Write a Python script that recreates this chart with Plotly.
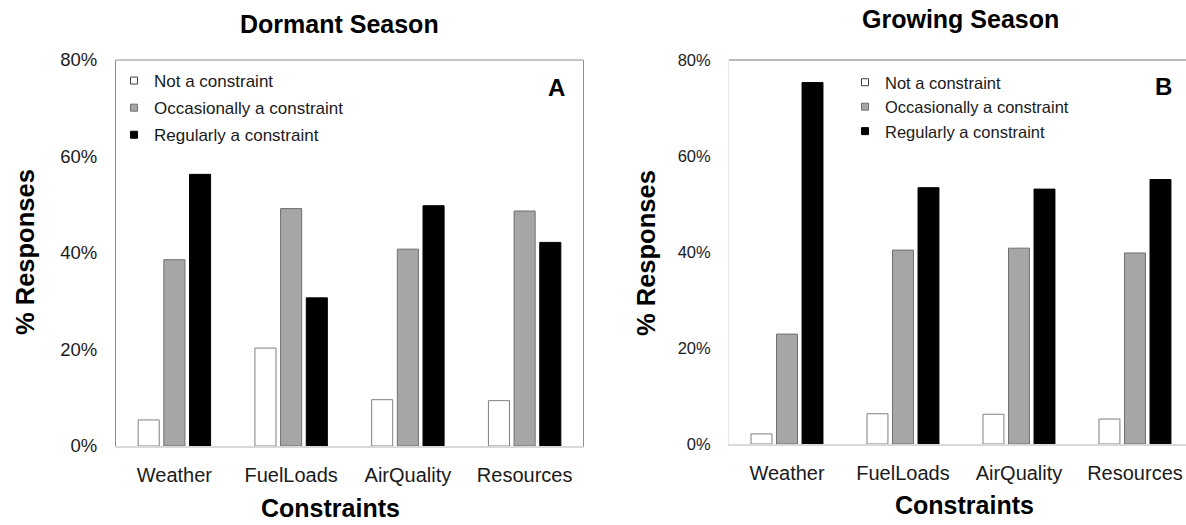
import plotly.graph_objects as go

categories = ["Weather", "FuelLoads", "AirQuality", "Resources"]
series_names = ["Not a constraint", "Occasionally a constraint", "Regularly a constraint"]
dormant_not = [5.4, 20.3, 9.6, 9.4]
dormant_occ = [38.6, 49.2, 40.8, 48.7]
dormant_reg = [56.3, 30.7, 49.8, 42.2]
growing_not = [2.1, 6.3, 6.2, 5.2]
growing_occ = [22.9, 40.4, 40.8, 39.8]
growing_reg = [75.3, 53.4, 53.1, 55.1]
y_ticks = [0, 20, 40, 60, 80]
y_tick_labels = ["0%", "20%", "40%", "60%", "80%"]

W, H = 1186, 525
FONT = "Arial, Liberation Sans, sans-serif"
fills = ["#ffffff", "#a6a6a6", "#000000"]
outlines = ["#7f7f7f", "#6f6f6f", "#000000"]

fig = go.Figure()

panels = [
    ("x", "y", [dormant_not, dormant_occ, dormant_reg], "legend"),
    ("x2", "y2", [growing_not, growing_occ, growing_reg], "legend2"),
]
for xa, ya, vals, lg in panels:
    for i, name in enumerate(series_names):
        fig.add_trace(go.Bar(
            x=categories, y=vals[i], name=name, xaxis=xa, yaxis=ya,
            marker=dict(color=fills[i], line=dict(color=outlines[i], width=1)),
            showlegend=False,
        ))
    for i, name in enumerate(series_names):
        fig.add_trace(go.Scatter(
            x=[None], y=[None], name=name, mode="markers", xaxis=xa, yaxis=ya,
            marker=dict(symbol="square", size=7, color=fills[i],
                        line=dict(color="#404040" if i == 0 else outlines[i], width=1)),
            legend=lg, legendgroup=(lg + str(i)) if lg == "legend" else None,
            showlegend=True,
        ))

tickfont_l = dict(family=FONT, size=18.5, color="#1a1a1a")
tickfont_r = dict(family=FONT, size=16.5, color="#1a1a1a")
xtickfont = dict(family=FONT, size=20, color="#1a1a1a")

fig.update_layout(
    template="none",
    width=W, height=H,
    margin=dict(l=0, r=0, t=0, b=0, autoexpand=False),
    paper_bgcolor="white", plot_bgcolor="white",
    barmode="group", bargap=0.34, bargroupgap=0.18,
    xaxis=dict(domain=[116 / W, 583 / W], range=[-0.5, 3.5], type="category",
               showline=True, linecolor="#d9d9d9", linewidth=1.5, showgrid=False,
               ticks="outside", ticklen=10, tickcolor="rgba(0,0,0,0)",
               tickfont=xtickfont, anchor="y", automargin=False),
    yaxis=dict(domain=[79 / H, 465 / H], range=[0, 80], tickvals=y_ticks,
               ticktext=y_tick_labels, showline=True, mirror=True, linecolor="#8c8c8c",
               linewidth=1, showgrid=False, zeroline=False,
               ticks="outside", ticklen=14, tickcolor="rgba(0,0,0,0)",
               tickfont=tickfont_l, anchor="x", automargin=False),
    xaxis2=dict(domain=[729 / W, 1.0], range=[-0.5, 3.44], type="category",
                showline=True, linecolor="#d9d9d9", linewidth=1.5, showgrid=False,
                ticks="outside", ticklen=10, tickcolor="rgba(0,0,0,0)",
                tickfont=xtickfont, anchor="y2", automargin=False),
    yaxis2=dict(domain=[81 / H, 465 / H], range=[0, 80], tickvals=y_ticks,
                ticktext=y_tick_labels, showline=True, linecolor="#e8e8e8", linewidth=1,
                showgrid=False, zeroline=False,
                ticks="outside", ticklen=14, tickcolor="rgba(0,0,0,0)",
                tickfont=tickfont_r, anchor="x2", automargin=False),
    legend=dict(x=114 / W, y=1 - 63 / H, xanchor="left", yanchor="top",
                bgcolor="rgba(0,0,0,0)", font=dict(family=FONT, size=17, color="#1a1a1a"),
                tracegroupgap=2, itemwidth=30),
    legend2=dict(x=845 / W, y=1 - 65 / H, xanchor="left", yanchor="top",
                 bgcolor="rgba(0,0,0,0)", font=dict(family=FONT, size=16.5, color="#1a1a1a"),
                 itemwidth=30),
    showlegend=True,
)

# top border lines of the two plot frames
fig.add_shape(type="line", xref="x domain", yref="y domain", x0=0, x1=1, y0=1, y1=1,
              line=dict(color="#8c8c8c", width=1))
fig.add_shape(type="line", xref="x2 domain", yref="y2 domain", x0=0, x1=1, y0=1, y1=1,
              line=dict(color="#a0a0a0", width=1.5))

def ann(text, x, y, size, bold=True, angle=0):
    fig.add_annotation(text=("<b>%s</b>" % text) if bold else text,
                       x=x / W, y=1 - y / H, xref="paper", yref="paper",
                       showarrow=False, textangle=angle,
                       font=dict(family=FONT, size=size, color="#000000"),
                       xanchor="center", yanchor="middle")

ann("Dormant Season", 339, 24, 25)
ann("Growing Season", 960, 19, 25)
ann("A", 556, 88, 24)
ann("B", 1163, 86, 24)
ann("% Responses", 25, 252, 25.5, angle=-90)
ann("% Responses", 646, 253, 25.5, angle=-90)
ann("Constraints", 330, 508, 25)
ann("Constraints", 964, 505, 25)

fig.write_html("out.html",
               config={"displayModeBar": False},
               post_script="document.body.style.margin='0';document.body.style.overflow='hidden';")
